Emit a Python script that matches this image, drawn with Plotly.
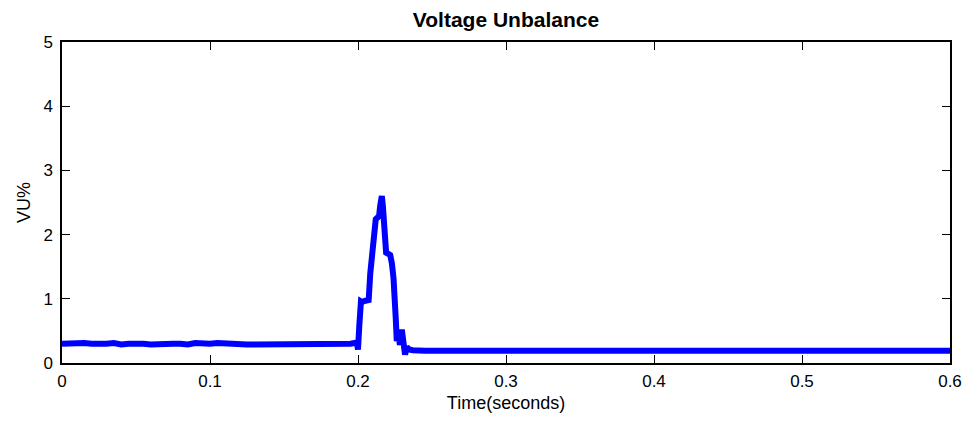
import plotly.graph_objects as go

# Pre-fault segment (0 .. 0.199 s)
t_pre = [0.000, 0.005, 0.010, 0.015, 0.020, 0.025, 0.030, 0.035, 0.040, 0.045,
         0.050, 0.055, 0.060, 0.065, 0.070, 0.075, 0.080, 0.085, 0.090, 0.095,
         0.100, 0.105, 0.110, 0.115, 0.120, 0.125, 0.130, 0.135, 0.140, 0.145,
         0.150, 0.155, 0.160, 0.165, 0.170, 0.175, 0.180, 0.185, 0.190, 0.195, 0.1993]
v_pre = [0.30, 0.31, 0.30, 0.31, 0.30, 0.29, 0.30, 0.31, 0.29, 0.30,
         0.31, 0.30, 0.29, 0.30, 0.31, 0.30, 0.30, 0.29, 0.31, 0.30,
         0.30, 0.31, 0.30, 0.29, 0.29, 0.29, 0.29, 0.29, 0.30, 0.29,
         0.30, 0.31, 0.30, 0.30, 0.29, 0.30, 0.31, 0.30, 0.30, 0.30, 0.32]

# Fault transient (0.2 .. 0.241 s)
t_fault = [0.2000, 0.2009, 0.2016, 0.2020, 0.2027, 0.2050, 0.2072, 0.2083, 0.2094,
           0.2105, 0.2120, 0.2134, 0.2143, 0.2150, 0.2161, 0.2168, 0.2179, 0.2190,
           0.2205, 0.2218, 0.2229, 0.2240, 0.2255, 0.2262, 0.2272, 0.2283, 0.2296,
           0.2307, 0.2318, 0.2330, 0.2345, 0.2370, 0.2408]
v_fault = [0.21, 0.59, 0.90, 0.96, 0.95, 0.97, 0.98, 1.40, 1.68,
           2.09, 2.24, 2.27, 2.30, 2.45, 2.60, 2.45, 1.83, 1.72,
           1.70, 1.68, 1.55, 1.32, 0.70, 0.34, 0.50, 0.28, 0.52,
           0.27, 0.13, 0.25, 0.21, 0.20, 0.19]

# Post-fault segment (0.245 .. 0.6 s)
t_post = [0.245, 0.250, 0.255, 0.260, 0.265, 0.270, 0.275, 0.280, 0.285, 0.290,
          0.295, 0.300, 0.305, 0.310, 0.315, 0.320, 0.325, 0.330, 0.335, 0.340,
          0.345, 0.350, 0.355, 0.360, 0.365, 0.370, 0.375, 0.380, 0.385, 0.390,
          0.395, 0.400, 0.405, 0.410, 0.415, 0.420, 0.425, 0.430, 0.435, 0.440,
          0.445, 0.450, 0.455, 0.460, 0.465, 0.470, 0.475, 0.480, 0.485, 0.490,
          0.495, 0.500, 0.505, 0.510, 0.515, 0.520, 0.525, 0.530, 0.535, 0.540,
          0.545, 0.550, 0.555, 0.560, 0.565, 0.570, 0.575, 0.580, 0.585, 0.590,
          0.595, 0.600]
v_post = [0.19, 0.19, 0.18, 0.19, 0.19, 0.18, 0.19, 0.19, 0.19, 0.18,
          0.19, 0.19, 0.19, 0.18, 0.19, 0.20, 0.19, 0.19, 0.18, 0.19,
          0.19, 0.20, 0.19, 0.18, 0.19, 0.19, 0.19, 0.18, 0.19, 0.19,
          0.18, 0.19, 0.19, 0.18, 0.19, 0.20, 0.19, 0.18, 0.19, 0.19,
          0.19, 0.18, 0.18, 0.18, 0.19, 0.20, 0.19, 0.18, 0.19, 0.19,
          0.18, 0.18, 0.18, 0.18, 0.18, 0.19, 0.20, 0.19, 0.18, 0.19,
          0.19, 0.18, 0.19, 0.20, 0.19, 0.18, 0.18, 0.19, 0.19, 0.18,
          0.20, 0.19]

t = t_pre + t_fault + t_post
v = v_pre + v_fault + v_post

x_ticks = [0, 0.1, 0.2, 0.3, 0.4, 0.5, 0.6]
x_tick_labels = ["0", "0.1", "0.2", "0.3", "0.4", "0.5", "0.6"]
y_ticks = [0, 1, 2, 3, 4, 5]
y_tick_labels = ["0", "1", "2", "3", "4", "5"]

fig = go.Figure()
fig.add_trace(go.Scatter(x=t, y=v, mode="lines",
                         line=dict(color="#0000FF", width=6),
                         showlegend=False))

font_family = "Liberation Sans, Arial, sans-serif"
axis_common = dict(showline=True, linecolor="black", linewidth=1.5, mirror="ticks",
                   ticks="inside", ticklen=8, tickcolor="black", tickwidth=1,
                   showgrid=False, zeroline=False,
                   tickfont=dict(family=font_family, size=17, color="black"))

fig.update_layout(
    width=974, height=422,
    margin=dict(l=62, r=20, t=42, b=57),
    paper_bgcolor="white", plot_bgcolor="white",
    title=dict(text="<b>Voltage Unbalance</b>", x=0.5, xanchor="center",
               xref="paper", y=1 - 20 / 422, yanchor="middle",
               font=dict(family=font_family, size=21, color="black")),
    xaxis=dict(range=[0, 0.6], tickvals=x_ticks, ticktext=x_tick_labels,
               ticklabelstandoff=2,
               title=dict(text="Time(seconds)", standoff=6,
                          font=dict(family=font_family, size=18, color="black")),
               **axis_common),
    yaxis=dict(range=[0, 5], tickvals=y_ticks, ticktext=y_tick_labels,
               ticklabelstandoff=4,
               title=dict(text="VU%", standoff=8,
                          font=dict(family=font_family, size=18, color="black")),
               **axis_common),
)

fig.write_html("out.html")
